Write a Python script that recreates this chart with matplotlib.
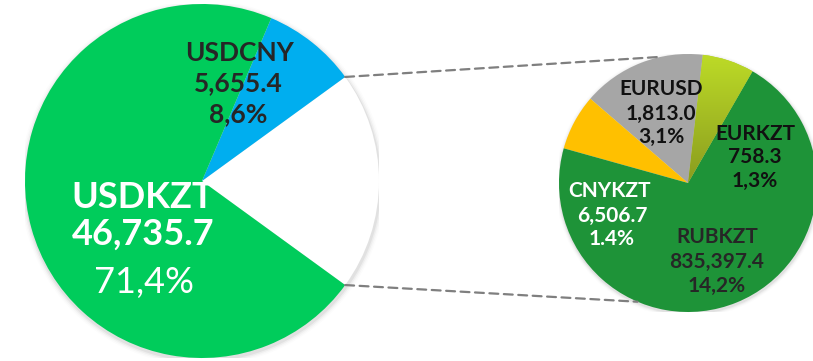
import matplotlib.pyplot as plt
import numpy as np
from matplotlib.patches import Circle, ConnectionPatch
from matplotlib.colors import LinearSegmentedColormap

# Main pie: pair, turnover, share of total (%)
main_pairs = ['USDKZT', 'USDCNY']
main_values = [46735.7, 5655.4]
main_pcts = [71.4, 8.6]
main_sep = [',', ',']

# Breakdown of the remaining pairs
other_pairs = ['EURKZT', 'EURUSD', 'CNYKZT', 'RUBKZT']
other_values = [758.3, 1813.0, 6506.7, 835397.4]
other_pcts = [1.3, 3.1, 1.4, 14.2]
other_sep = [',', ',', '.', ',']

other_total = sum(other_pcts)

plt.rcParams['font.family'] = ['Lato', 'DejaVu Sans']

fig = plt.figure(figsize=(8.13, 3.61), dpi=100)
W, H = 813, 361

# big pie: centre (202, 181) px, radius 177 px
ax1 = fig.add_axes([25 / W, 3 / H, 354 / W, 354 / H])
# small pie: centre (688, 183) px, radius 129 px
ax2 = fig.add_axes([559 / W, 49 / H, 258 / W, 258 / H])


def soft_shadow(ax):
    for k, a in enumerate([0.05, 0.035, 0.02, 0.01]):
        ax.add_patch(Circle((0.004, -0.012), 1.0 + 0.008 * (k + 1),
                            facecolor='black', edgecolor='none', alpha=a, zorder=0))


def pct_text(p, sep):
    return f'{p:.1f}'.replace('.', sep) + '%'


# --- big pie ---
soft_shadow(ax1)
big_sizes = [other_total, main_pcts[1], main_pcts[0]]
big_colors = ['#ffffff', '#00aeef', '#00cc5b']
half = other_total / 100 * 360 / 2
big_wedges, _ = ax1.pie(big_sizes, colors=big_colors, startangle=-half,
                        radius=1.0, wedgeprops=dict(linewidth=0))
ax1.set_xlim(-1, 1)
ax1.set_ylim(-1, 1)
ax1.set_aspect('equal')
ax1.axis('off')

# label positions (x centre, baseline) in pie units
kzt_pos = [(-0.335, -0.15), (-0.33, -0.36), (-0.33, -0.63)]
cny_pos = [(0.21, 0.68), (0.205, 0.505), (0.205, 0.33)]

v, p, s = main_values[0], main_pcts[0], main_sep[0]
ax1.text(*kzt_pos[0], main_pairs[0], ha='center', va='baseline', color='white',
         fontsize=26, fontweight='bold')
ax1.text(*kzt_pos[1], f'{v:,.1f}', ha='center', va='baseline', color='white',
         fontsize=26, fontweight='bold')
ax1.text(*kzt_pos[2], pct_text(p, s), ha='center', va='baseline',
         color='white', fontsize=26, fontweight='normal')

v, p, s = main_values[1], main_pcts[1], main_sep[1]
for (x, y), txt in zip(cny_pos, [main_pairs[1], f'{v:,.1f}', pct_text(p, s)]):
    ax1.text(x, y, txt, ha='center', va='baseline', color='#262626',
             fontsize=19, fontweight='bold')

# --- small pie ---
soft_shadow(ax2)
small_colors = ['#a9c823', '#a6a6a6', '#ffc000', '#1e9338']
small_wedges, _ = ax2.pie(other_pcts, colors=small_colors, startangle=60,
                          radius=1.0, wedgeprops=dict(linewidth=0))

# gradient fill on the EURKZT slice
grad = LinearSegmentedColormap.from_list('eurkzt', ['#8a9c1f', '#bddb27'])
img = ax2.imshow(np.linspace(0, 1, 256).reshape(-1, 1), cmap=grad, origin='lower',
                 extent=(-1, 1, 0, 1), aspect='auto', zorder=2)
img.set_clip_path(small_wedges[0])

ax2.set_xlim(-1, 1)
ax2.set_ylim(-1, 1)
ax2.set_aspect('equal')
ax2.axis('off')

small_pos = [
    [(0.52, 0.333), (0.52, 0.155), (0.52, -0.031)],        # EURKZT
    [(-0.21, 0.682), (-0.21, 0.488), (-0.21, 0.31)],       # EURUSD
    [(-0.605, -0.109), (-0.59, -0.302), (-0.59, -0.481)],  # CNYKZT
    [(0.225, -0.465), (0.225, -0.659), (0.225, -0.845)],   # RUBKZT
]
small_text_colors = ['#111111', '#111111', 'white', '#262626']
for name, v, p, s, pos, c in zip(other_pairs, other_values, other_pcts,
                                 other_sep, small_pos, small_text_colors):
    lines = [name, f'{v:,.1f}', pct_text(p, s)]
    for (x, y), txt in zip(pos, lines):
        ax2.text(x, y, txt, ha='center', va='baseline', color=c,
                 fontsize=15, fontweight='bold', zorder=5)

# dashed lines from the "other" slice to the breakdown pie
wo = big_wedges[0]
for a_big, a_small in [(wo.theta2, 102), (wo.theta1, 247)]:
    ra, rb = np.deg2rad(a_big), np.deg2rad(a_small)
    con = ConnectionPatch(xyA=(np.cos(ra), np.sin(ra)), coordsA=ax1.transData,
                          xyB=(np.cos(rb), np.sin(rb)), coordsB=ax2.transData,
                          color='#7f7f7f', linewidth=1.6, linestyle=(0, (4, 2.5)))
    fig.add_artist(con)

fig.savefig('out.png', dpi=100)
